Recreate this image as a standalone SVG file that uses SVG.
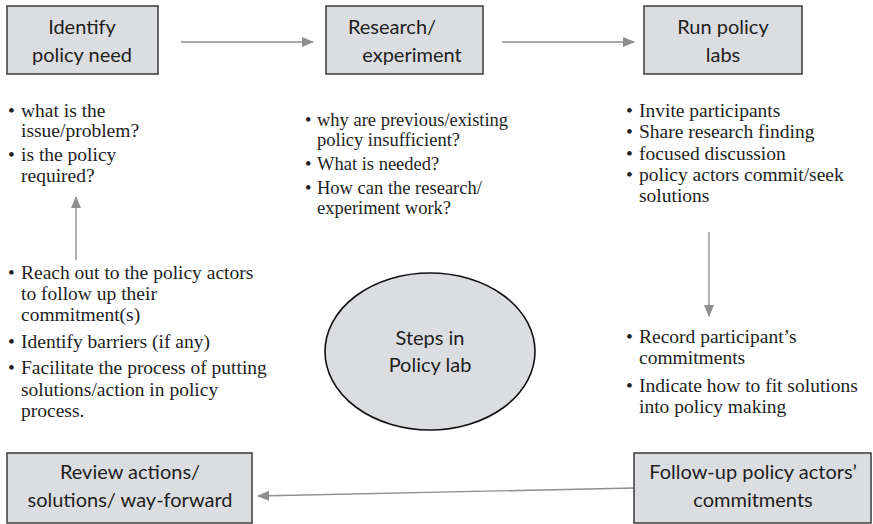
<svg xmlns="http://www.w3.org/2000/svg" width="873" height="524" viewBox="0 0 873 524">
  <style>
    .box { fill: #dcdde0; stroke: #3a3a3a; stroke-width: 1.5; }
    .hub { fill: #dcdde0; stroke: #111; stroke-width: 1.6; }
    .lbl { font-family: Lato, "Liberation Sans", sans-serif; font-size: 20px; fill: #1e1e1e; text-anchor: middle; }
    .pts { font-family: "Liberation Serif", "Times New Roman", serif; font-size: 19.5px; fill: #1e1e1e; }
    .pts.mid { font-size: 18.5px; }
    .link { stroke: #8e8e8e; stroke-width: 1.4; fill: none; marker-end: url(#head); }
  </style>
  <defs>
    <marker id="head" markerWidth="12" markerHeight="10" refX="11" refY="5" orient="auto" markerUnits="userSpaceOnUse">
      <path d="M0,0 L12,5 L0,10 Z" fill="#8e8e8e"/>
    </marker>
  </defs>

  <rect width="873" height="524" fill="#ffffff"/>

  <!-- connectors -->
  <g id="connectors">
    <line class="link" x1="181" y1="42" x2="313" y2="42"/>
    <line class="link" x1="502" y1="42" x2="634" y2="42"/>
    <line class="link" x1="709" y1="232" x2="709" y2="316"/>
    <line class="link" x1="634" y1="488" x2="258" y2="496"/>
    <line class="link" x1="76" y1="260" x2="76" y2="197"/>
  </g>

  <!-- step boxes -->
  <g id="identify">
    <rect class="box" x="7" y="6" width="151" height="68"/>
    <text class="lbl" x="82" y="34">Identify</text>
    <text class="lbl" x="82" y="62">policy need</text>
  </g>
  <g id="research">
    <rect class="box" x="326" y="6" width="157" height="68"/>
    <text class="lbl" x="392" y="34">Research/</text>
    <text class="lbl" x="412" y="62">experiment</text>
  </g>
  <g id="run-labs">
    <rect class="box" x="644" y="6" width="158" height="68"/>
    <text class="lbl" x="723" y="34">Run policy</text>
    <text class="lbl" x="723" y="62">labs</text>
  </g>
  <g id="review">
    <rect class="box" x="7" y="453" width="245" height="70"/>
    <text class="lbl" x="130" y="479">Review actions/</text>
    <text class="lbl" x="130" y="507">solutions/ way-forward</text>
  </g>
  <g id="follow-up">
    <rect class="box" x="634" y="453" width="237" height="70"/>
    <text class="lbl" x="753" y="479">Follow-up policy actors’</text>
    <text class="lbl" x="753" y="507">commitments</text>
  </g>
  <g id="steps">
    <ellipse class="hub" cx="430" cy="351.5" rx="105" ry="78.5"/>
    <text class="lbl" x="430" y="345">Steps in</text>
    <text class="lbl" x="430" y="372">Policy lab</text>
  </g>

  <!-- bullet notes -->
  <g id="notes-identify" class="pts">
    <text x="8" y="117">•</text><text x="21" y="117">what is the</text>
    <text x="21" y="137">issue/problem?</text>
    <text x="8" y="161">•</text><text x="21" y="161">is the policy</text>
    <text x="21" y="182">required?</text>
  </g>
  <g id="notes-research" class="pts mid">
    <text x="305" y="126">•</text><text x="317" y="126">why are previous/existing</text>
    <text x="317" y="146">policy insufficient?</text>
    <text x="305" y="170">•</text><text x="317" y="170">What is needed?</text>
    <text x="305" y="194">•</text><text x="317" y="194">How can the research/</text>
    <text x="317" y="214">experiment work?</text>
  </g>
  <g id="notes-labs" class="pts">
    <text x="626" y="117">•</text><text x="639" y="117">Invite participants</text>
    <text x="626" y="138">•</text><text x="639" y="138">Share research finding</text>
    <text x="626" y="160">•</text><text x="639" y="160">focused discussion</text>
    <text x="626" y="181">•</text><text x="639" y="181">policy actors commit/seek</text>
    <text x="639" y="202">solutions</text>
  </g>
  <g id="notes-follow-up" class="pts">
    <text x="8" y="279">•</text><text x="21" y="279">Reach out to the policy actors</text>
    <text x="21" y="300">to follow up their</text>
    <text x="21" y="321">commitment(s)</text>
    <text x="8" y="348">•</text><text x="21" y="348">Identify barriers (if any)</text>
    <text x="8" y="374">•</text><text x="21" y="374">Facilitate the process of putting</text>
    <text x="21" y="396">solutions/action in policy</text>
    <text x="21" y="417">process.</text>
  </g>
  <g id="notes-record" class="pts">
    <text x="626" y="343">•</text><text x="639" y="343">Record participant’s</text>
    <text x="639" y="364">commitments</text>
    <text x="626" y="392">•</text><text x="639" y="392">Indicate how to fit solutions</text>
    <text x="639" y="413">into policy making</text>
  </g>
</svg>
